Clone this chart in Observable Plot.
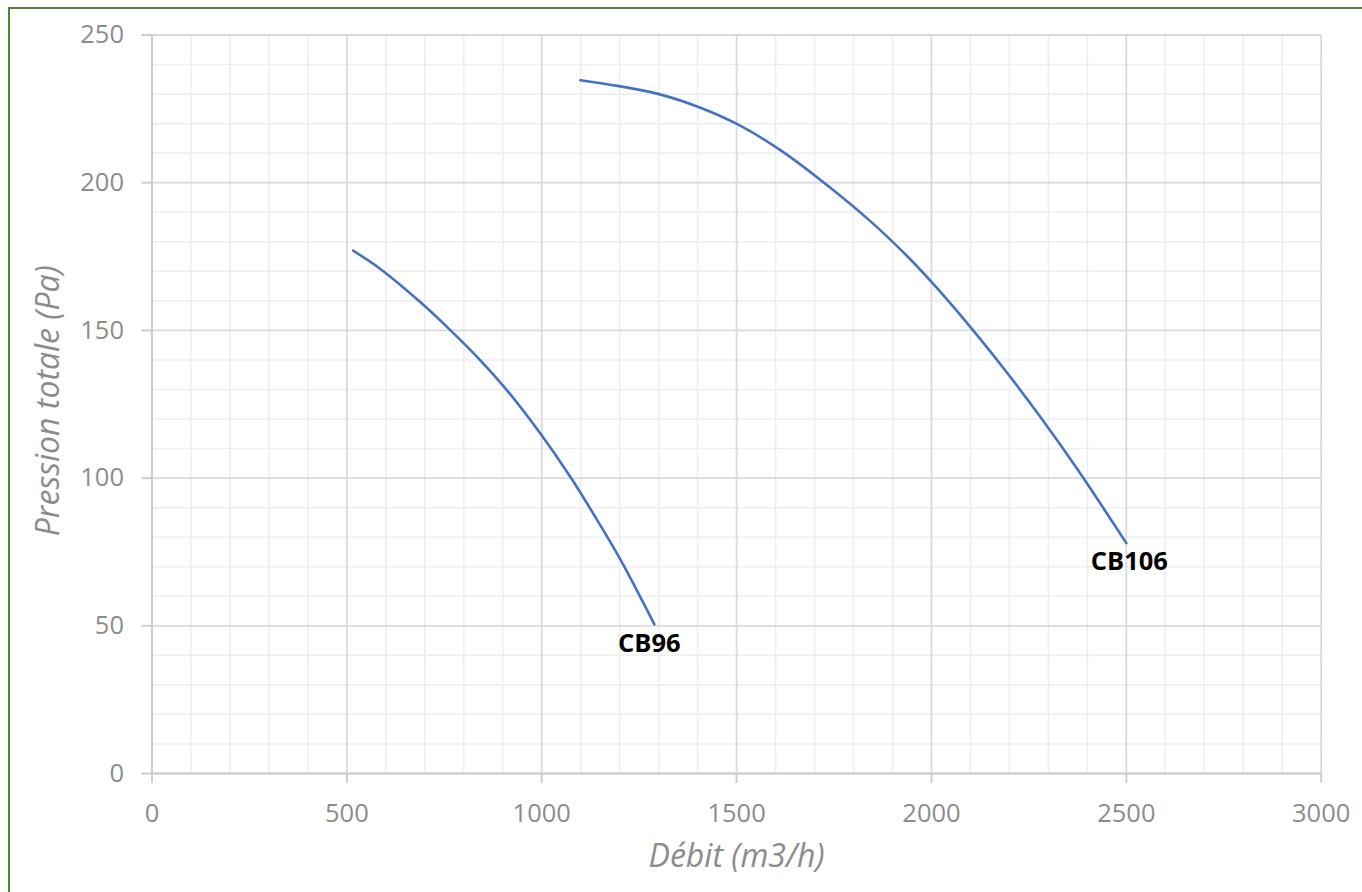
<!DOCTYPE html>
<html><head><meta charset="utf-8">
<script src="https://cdn.jsdelivr.net/npm/d3@7"></script>
<script src="https://cdn.jsdelivr.net/npm/@observablehq/plot@0.6"></script>
<style>
html,body{margin:0;padding:0;background:#fff;overflow:hidden}
#wrap{position:relative;width:1362px;height:892px}
#wrap svg{position:absolute;left:0;top:0}
#frame{position:absolute;left:8px;top:7px;width:1400px;height:950px;border-top:2px solid #548235;border-left:2px solid #548235;pointer-events:none}
</style></head><body><div id="wrap"></div>
<script>
// Tick values
const xTicks = [0, 500, 1000, 1500, 2000, 2500, 3000];
const yTicks = [0, 50, 100, 150, 200, 250];
const xMinor = [100,200,300,400,600,700,800,900,1100,1200,1300,1400,1600,1700,1800,1900,2100,2200,2300,2400,2600,2700,2800,2900];
const yMinor = [10,20,30,40,60,70,80,90,110,120,130,140,160,170,180,190,210,220,230,240];

// Series: CB96
const cb96Debit =    [516, 586, 689, 766, 843, 911, 997, 1074, 1134, 1202, 1289];
const cb96Pression = [177.0, 170.8, 159.5, 150.0, 139.8, 129.7, 115.0, 100.3, 87.6, 72.4, 50.5];
// Series: CB106
const cb106Debit =    [1099, 1198, 1303, 1407, 1502, 1616, 1730, 1843, 1938, 2000, 2090, 2185, 2280, 2375, 2500];
const cb106Pression = [234.7, 232.7, 229.9, 225.4, 219.8, 210.7, 199.4, 187.0, 175.1, 166.4, 152.7, 137.2, 120.6, 102.9, 78.0];

const seriesNames = ["CB96", "CB106"];
const xTitle = "Débit (m3/h)";
const yTitle = "Pression totale (Pa)";

const cb96 = cb96Debit.map((d, i) => ({serie: seriesNames[0], debit: d, pression: cb96Pression[i]}));
const cb106 = cb106Debit.map((d, i) => ({serie: seriesNames[1], debit: d, pression: cb106Pression[i]}));
const cb96End = [cb96[cb96.length - 1]];
const cb106End = [cb106[cb106.length - 1]];

const font = "'Open Sans', sans-serif";
const chart = Plot.plot({
  width: 1362, height: 892,
  marginLeft: 151.5, marginRight: 41.3, marginTop: 34.5, marginBottom: 119,
  x: {domain: [0, 3000], label: null},
  y: {domain: [0, 250], label: null},
  style: {fontFamily: font, background: "transparent", overflow: "visible"},
  marks: [
    Plot.ruleX(xMinor, {stroke: "#eeeeee", strokeWidth: 1.6}),
    Plot.ruleY(yMinor, {stroke: "#eeeeee", strokeWidth: 1.6}),
    Plot.ruleX(xTicks, {stroke: "#dadada", strokeWidth: 1.8}),
    Plot.ruleY(yTicks, {stroke: "#dadada", strokeWidth: 1.8}),
    Plot.ruleX([0], {stroke: "#cdcdcd", strokeWidth: 2}),
    Plot.ruleY([0], {stroke: "#cdcdcd", strokeWidth: 2}),
    Plot.axisX({ticks: xTicks, tickFormat: d3.format("d"), tickSize: 10, tickPadding: 20,
      fontSize: 25.5, stroke: "#cdcdcd", strokeWidth: 2, fill: "#8c8c8c", label: null}),
    Plot.axisY({ticks: yTicks, tickFormat: d3.format("d"), tickSize: 10, tickPadding: 18,
      fontSize: 25.5, stroke: "#cdcdcd", strokeWidth: 2, fill: "#8c8c8c", label: null}),
    Plot.line(cb96, {x: "debit", y: "pression", stroke: "#4472c4", strokeWidth: 2.6, curve: "catmull-rom"}),
    Plot.line(cb106, {x: "debit", y: "pression", stroke: "#4472c4", strokeWidth: 2.6, curve: "catmull-rom"}),
    Plot.text(cb96End, {x: "debit", y: "pression", text: "serie", dx: -5, dy: 19.5,
      fontSize: 25.5, fontWeight: "bold", fill: "#000"}),
    Plot.text(cb106End, {x: "debit", y: "pression", text: "serie", dx: 3, dy: 18.5,
      fontSize: 25.5, fontWeight: "bold", fill: "#000"}),
    Plot.text([xTitle], {frameAnchor: "bottom", textAnchor: "middle", dy: 93, fontSize: 32, fontStyle: "italic", fill: "#8c8c8c"}),
    Plot.text([yTitle], {frameAnchor: "left", textAnchor: "middle", dx: -103.5, dy: -3.5, rotate: -90, fontSize: 32, fontStyle: "italic", fill: "#8c8c8c"})
  ]
});
const wrap = document.getElementById("wrap");
wrap.appendChild(chart);
const frame = document.createElement("div");
frame.id = "frame";
wrap.appendChild(frame);
</script>
</body></html>
